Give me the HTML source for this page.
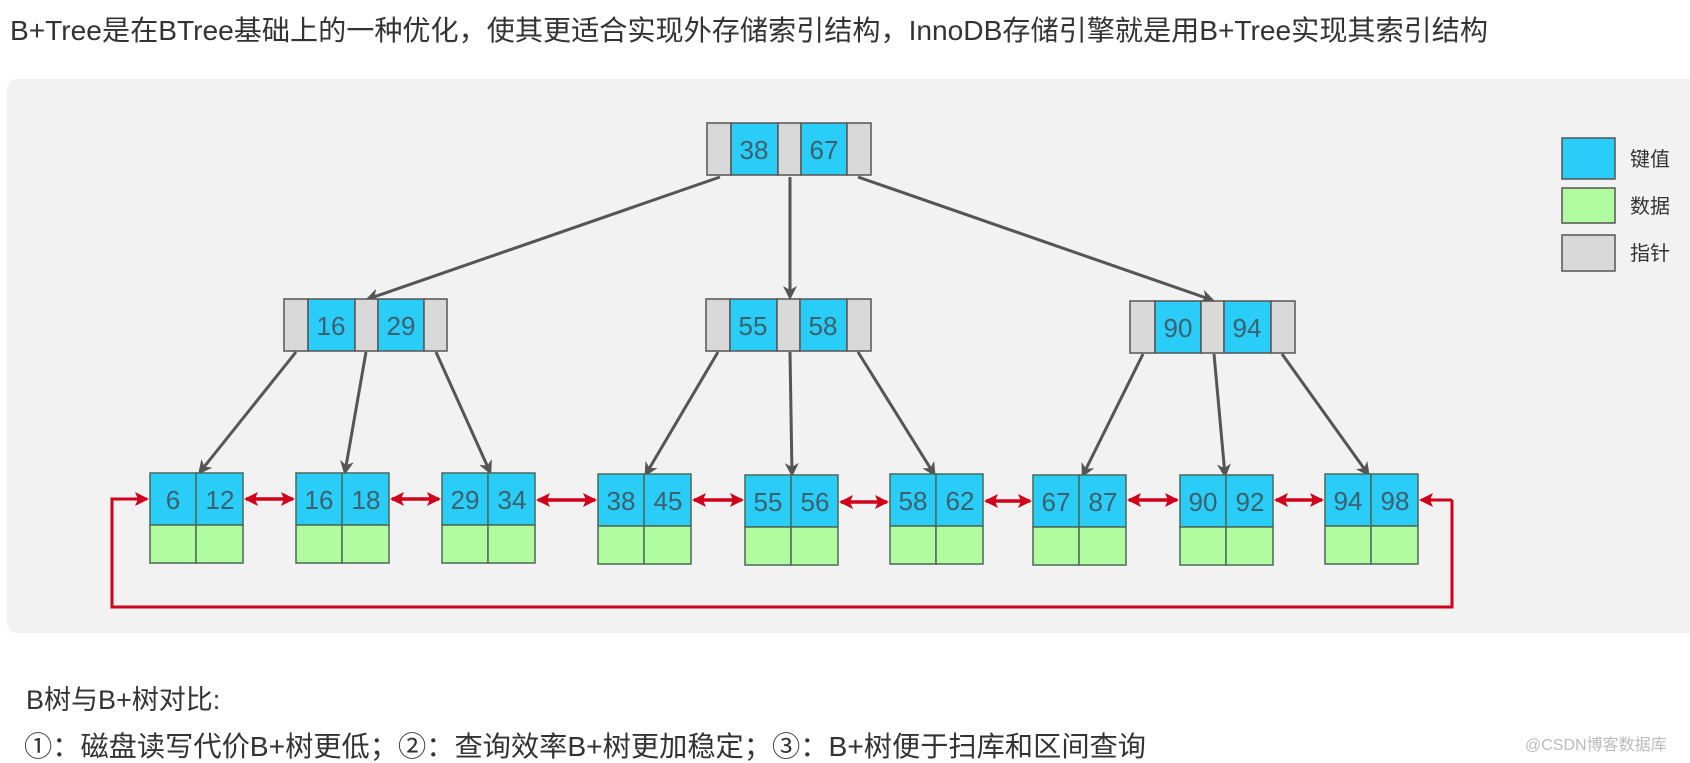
<!DOCTYPE html>
<html><head><meta charset="utf-8"><style>
html,body{margin:0;padding:0;background:#fff;width:1690px;height:763px;overflow:hidden}
svg{display:block}
</style></head><body>
<svg width="1690" height="763" xmlns="http://www.w3.org/2000/svg" font-family="'Liberation Sans','Noto Sans CJK SC',sans-serif">
<defs>
<marker id="ga" markerWidth="14" markerHeight="14" refX="11" refY="7" orient="auto" markerUnits="userSpaceOnUse"><path d="M0,0 L14,7 L0,14 L4,7 z" fill="#555"/></marker>
<marker id="ra" markerWidth="14" markerHeight="14" refX="12" refY="7" orient="auto" markerUnits="userSpaceOnUse"><path d="M0,0 L14,7 L0,14 L3,7 z" fill="#d0021b"/></marker>
<marker id="rs" markerWidth="14" markerHeight="14" refX="2" refY="7" orient="auto" markerUnits="userSpaceOnUse"><path d="M14,0 L0,7 L14,14 L11,7 z" fill="#d0021b"/></marker>
</defs>
<rect width="1690" height="763" fill="#fff"/>
<text x="10" y="40" font-size="28" fill="#333" textLength="1478" lengthAdjust="spacingAndGlyphs">B+Tree是在BTree基础上的一种优化，使其更适合实现外存储索引结构，InnoDB存储引擎就是用B+Tree实现其索引结构</text>
<rect x="7" y="79" width="1700" height="554" rx="10" fill="#f2f2f2"/>

<g stroke="#555" stroke-width="3" fill="none" marker-end="url(#ga)">
<line x1="720" y1="177" x2="368" y2="299"/>
<line x1="790" y1="177" x2="790" y2="297"/>
<line x1="858" y1="177" x2="1212" y2="300"/>
<line x1="296" y1="352" x2="200" y2="472"/>
<line x1="366" y1="352" x2="345" y2="472"/>
<line x1="436" y1="352" x2="490" y2="472"/>
<line x1="718" y1="352" x2="646" y2="474"/>
<line x1="790" y1="352" x2="792" y2="474"/>
<line x1="858" y1="352" x2="934" y2="474"/>
<line x1="1143" y1="354" x2="1083" y2="475"/>
<line x1="1214" y1="354" x2="1225" y2="475"/>
<line x1="1282" y1="354" x2="1368" y2="474"/>
</g>

<g stroke="#555" stroke-width="1.5">
<rect x="707" y="123" width="24" height="52" fill="#d9d9d9"/><rect x="731" y="123" width="47" height="52" fill="#29cdf7"/><rect x="778" y="123" width="23" height="52" fill="#d9d9d9"/><rect x="801" y="123" width="46" height="52" fill="#29cdf7"/><rect x="847" y="123" width="24" height="52" fill="#d9d9d9"/>
<rect x="284" y="299" width="24" height="52" fill="#d9d9d9"/><rect x="308" y="299" width="47" height="52" fill="#29cdf7"/><rect x="355" y="299" width="23" height="52" fill="#d9d9d9"/><rect x="378" y="299" width="46" height="52" fill="#29cdf7"/><rect x="424" y="299" width="23" height="52" fill="#d9d9d9"/>
<rect x="706" y="299" width="24" height="52" fill="#d9d9d9"/><rect x="730" y="299" width="47" height="52" fill="#29cdf7"/><rect x="777" y="299" width="23" height="52" fill="#d9d9d9"/><rect x="800" y="299" width="47" height="52" fill="#29cdf7"/><rect x="847" y="299" width="24" height="52" fill="#d9d9d9"/>
<rect x="1130" y="301" width="25" height="52" fill="#d9d9d9"/><rect x="1155" y="301" width="46" height="52" fill="#29cdf7"/><rect x="1201" y="301" width="23" height="52" fill="#d9d9d9"/><rect x="1224" y="301" width="47" height="52" fill="#29cdf7"/><rect x="1271" y="301" width="24" height="52" fill="#d9d9d9"/>
</g>
<g font-size="26" fill="#3d6070" text-anchor="middle">
<text x="754" y="159">38</text><text x="824" y="159">67</text>
<text x="331" y="335">16</text><text x="401" y="335">29</text>
<text x="753" y="335">55</text><text x="823" y="335">58</text>
<text x="1178" y="337">90</text><text x="1247" y="337">94</text>
</g>

<g stroke="#4a6a5a" stroke-width="1.5" font-size="26" text-anchor="middle">
<g transform="translate(150,473)"><rect width="46" height="52" fill="#29cdf7"/><rect x="46" width="47" height="52" fill="#29cdf7"/><rect y="52" width="46" height="38" fill="#b0fc9e"/><rect x="46" y="52" width="47" height="38" fill="#b0fc9e"/><text x="23" y="36" stroke="none" fill="#3d6070">6</text><text x="70" y="36" stroke="none" fill="#3d6070">12</text></g>
<g transform="translate(296,473)"><rect width="46" height="52" fill="#29cdf7"/><rect x="46" width="47" height="52" fill="#29cdf7"/><rect y="52" width="46" height="38" fill="#b0fc9e"/><rect x="46" y="52" width="47" height="38" fill="#b0fc9e"/><text x="23" y="36" stroke="none" fill="#3d6070">16</text><text x="70" y="36" stroke="none" fill="#3d6070">18</text></g>
<g transform="translate(442,473)"><rect width="46" height="52" fill="#29cdf7"/><rect x="46" width="47" height="52" fill="#29cdf7"/><rect y="52" width="46" height="38" fill="#b0fc9e"/><rect x="46" y="52" width="47" height="38" fill="#b0fc9e"/><text x="23" y="36" stroke="none" fill="#3d6070">29</text><text x="70" y="36" stroke="none" fill="#3d6070">34</text></g>
<g transform="translate(598,474)"><rect width="46" height="52" fill="#29cdf7"/><rect x="46" width="47" height="52" fill="#29cdf7"/><rect y="52" width="46" height="38" fill="#b0fc9e"/><rect x="46" y="52" width="47" height="38" fill="#b0fc9e"/><text x="23" y="36" stroke="none" fill="#3d6070">38</text><text x="70" y="36" stroke="none" fill="#3d6070">45</text></g>
<g transform="translate(745,475)"><rect width="46" height="52" fill="#29cdf7"/><rect x="46" width="47" height="52" fill="#29cdf7"/><rect y="52" width="46" height="38" fill="#b0fc9e"/><rect x="46" y="52" width="47" height="38" fill="#b0fc9e"/><text x="23" y="36" stroke="none" fill="#3d6070">55</text><text x="70" y="36" stroke="none" fill="#3d6070">56</text></g>
<g transform="translate(890,474)"><rect width="46" height="52" fill="#29cdf7"/><rect x="46" width="47" height="52" fill="#29cdf7"/><rect y="52" width="46" height="38" fill="#b0fc9e"/><rect x="46" y="52" width="47" height="38" fill="#b0fc9e"/><text x="23" y="36" stroke="none" fill="#3d6070">58</text><text x="70" y="36" stroke="none" fill="#3d6070">62</text></g>
<g transform="translate(1033,475)"><rect width="46" height="52" fill="#29cdf7"/><rect x="46" width="47" height="52" fill="#29cdf7"/><rect y="52" width="46" height="38" fill="#b0fc9e"/><rect x="46" y="52" width="47" height="38" fill="#b0fc9e"/><text x="23" y="36" stroke="none" fill="#3d6070">67</text><text x="70" y="36" stroke="none" fill="#3d6070">87</text></g>
<g transform="translate(1180,475)"><rect width="46" height="52" fill="#29cdf7"/><rect x="46" width="47" height="52" fill="#29cdf7"/><rect y="52" width="46" height="38" fill="#b0fc9e"/><rect x="46" y="52" width="47" height="38" fill="#b0fc9e"/><text x="23" y="36" stroke="none" fill="#3d6070">90</text><text x="70" y="36" stroke="none" fill="#3d6070">92</text></g>
<g transform="translate(1325,474)"><rect width="46" height="52" fill="#29cdf7"/><rect x="46" width="47" height="52" fill="#29cdf7"/><rect y="52" width="46" height="38" fill="#b0fc9e"/><rect x="46" y="52" width="47" height="38" fill="#b0fc9e"/><text x="23" y="36" stroke="none" fill="#3d6070">94</text><text x="70" y="36" stroke="none" fill="#3d6070">98</text></g>
</g>

<g stroke="#d0021b" stroke-width="3.5" fill="none">
<line x1="246" y1="499" x2="293" y2="499" marker-start="url(#rs)" marker-end="url(#ra)"/>
<line x1="392" y1="499" x2="439" y2="499" marker-start="url(#rs)" marker-end="url(#ra)"/>
<line x1="538" y1="500" x2="595" y2="500" marker-start="url(#rs)" marker-end="url(#ra)"/>
<line x1="694" y1="500" x2="742" y2="500" marker-start="url(#rs)" marker-end="url(#ra)"/>
<line x1="841" y1="502" x2="887" y2="502" marker-start="url(#rs)" marker-end="url(#ra)"/>
<line x1="986" y1="501" x2="1030" y2="501" marker-start="url(#rs)" marker-end="url(#ra)"/>
<line x1="1129" y1="500" x2="1177" y2="500" marker-start="url(#rs)" marker-end="url(#ra)"/>
<line x1="1276" y1="500" x2="1322" y2="500" marker-start="url(#rs)" marker-end="url(#ra)"/>
<polyline points="1452,500 1452,607 112,607 112,499 147,499" marker-end="url(#ra)" stroke-width="3"/>
<line x1="1452" y1="500" x2="1421" y2="500" marker-end="url(#ra)" stroke-width="3"/>
</g>

<g stroke="#555" stroke-width="1.5">
<rect x="1562" y="138" width="53" height="41" fill="#29cdf7"/>
<rect x="1562" y="188" width="53" height="35" fill="#b0fc9e"/>
<rect x="1562" y="235" width="53" height="36" fill="#d9d9d9"/>
</g>
<g font-size="20" fill="#333">
<text x="1630" y="166">键值</text><text x="1630" y="213">数据</text><text x="1630" y="260">指针</text>
</g>

<text x="26" y="709" font-size="27" fill="#333">B树与B+树对比:</text>
<text x="24" y="756" font-size="28" fill="#333" textLength="1122" lengthAdjust="spacingAndGlyphs">①：磁盘读写代价B+树更低；②：查询效率B+树更加稳定；③：B+树便于扫库和区间查询</text>
<text x="1525" y="750" font-size="16" fill="#bbb">@CSDN博客数据库</text>
</svg>
</body></html>
